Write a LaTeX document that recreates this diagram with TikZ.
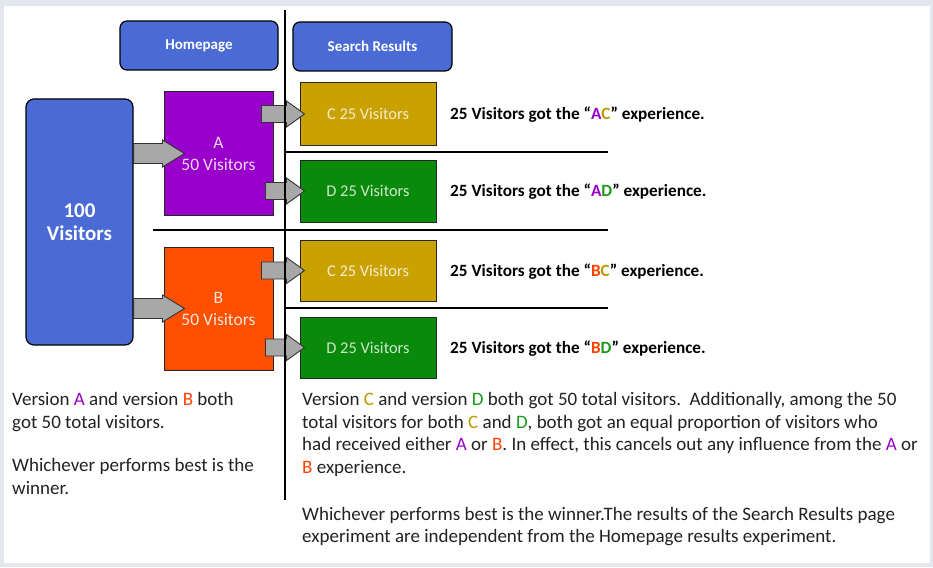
\documentclass[tikz,border=0pt]{standalone}
\usepackage{fontspec}
\setmainfont{Carlito}
\usetikzlibrary{calc}

\definecolor{framegray}{HTML}{E4E6EE}
\definecolor{hpblue}{HTML}{4A6BD6}
\definecolor{apurple}{HTML}{9900CC}
\definecolor{borange}{HTML}{FF5000}
\definecolor{cgold}{HTML}{C9A200}
\definecolor{dgreen}{HTML}{0A8A0A}
\definecolor{ctext}{HTML}{BA9C00}
\definecolor{dtext}{HTML}{1A9A1A}
\definecolor{btext}{HTML}{FF4000}
\definecolor{arrowgray}{HTML}{A8A8A8}
\definecolor{bodytext}{HTML}{222222}

\begin{document}
\begin{tikzpicture}[x=1pt, y=-1pt, inner sep=0pt,
    header/.style = {draw=black, line width=1.2pt, fill=hpblue, rounded corners=7pt, text=white,
                     minimum width=158pt, minimum height=49pt, font=\fontsize{15}{17}\selectfont\bfseries},
    total/.style = {draw=black, line width=1.2pt, fill=hpblue, rounded corners=8pt, text=white,
                    minimum width=107pt, minimum height=246pt, align=center, font=\fontsize{21}{23}\selectfont\bfseries},
    version/.style = {draw=black!85, line width=1pt, fill=#1, text=white!85!#1,
                      minimum width=109pt, minimum height=123pt, align=center, font=\fontsize{17.5}{22}\selectfont},
    page/.style = {draw=black!85, line width=1pt, fill=#1, text=white!80!#1,
                   minimum width=136pt, minimum height=62pt, font=\fontsize{16.4}{18}\selectfont},
    result/.style = {anchor=west, text=black, font=\fontsize{17.2}{19}\selectfont\bfseries},
    note/.style = {anchor=north west, align=left, text=bodytext, font=\fontsize{19}{22.7}\selectfont},
    divider/.style = {draw=black, line width=1.6pt},
    arrowbig/.style = {draw=black!80, fill=arrowgray, line width=0.9pt,
      to path={let \p1=(\tikztostart), \p2=(\tikztotarget) in
        (\x1,{\y1-10pt}) -- ({\x2-22pt},{\y1-10pt}) -- ({\x2-22pt},{\y1-13.5pt}) -- (\x2,\y1)
        -- ({\x2-22pt},{\y1+13.5pt}) -- ({\x2-22pt},{\y1+10pt}) -- (\x1,{\y1+10pt}) -- cycle}},
    arrowsmall/.style = {draw=black!80, fill=arrowgray, line width=0.9pt,
      to path={let \p1=(\tikztostart), \p2=(\tikztotarget) in
        (\x1,{\y1-8.5pt}) -- ({\x2-18pt},{\y1-8.5pt}) -- ({\x2-18pt},{\y1-13pt}) -- (\x2,\y1)
        -- ({\x2-18pt},{\y1+13pt}) -- ({\x2-18pt},{\y1+8.5pt}) -- (\x1,{\y1+8.5pt}) -- cycle}}]

    % frame
    \fill[framegray] (0,0) rectangle (933,567);
    \fill[white] (4,6) rectangle (930,563);

    % pages
    \node[header] (home) at (199,45.5) {Homepage};
    \node[header, minimum width=159pt] (search) at (372.5,46.5) {Search Results};

    % visitors
    \node[total] (hundred) at (79.5,222) {100\\Visitors};
    \node[version=apurple] (A) at (218.5,153.5) {A\\50 Visitors};
    \node[version=borange] (B) at (218.5,308.5) {B\\50 Visitors};

    \node[page=cgold] (AC) at (368,114) {C 25 Visitors};
    \node[page=dgreen] (AD) at (368,191) {D 25 Visitors};
    \node[page=cgold, minimum height=61pt] (BC) at (368,270.5) {C 25 Visitors};
    \node[page=dgreen, minimum height=61pt] (BD) at (368,347.5) {D 25 Visitors};

    % arrows
    \coordinate (sA) at (hundred.east |- A);
    \coordinate (tA) at ([xshift=21pt]A.west);
    \draw[arrowbig] (sA) to (tA);
    \coordinate (sB) at (hundred.east |- B);
    \coordinate (tB) at ([xshift=21pt]B.west);
    \draw[arrowbig] (sB) to (tB);

    \coordinate (sAC) at ([xshift=-12pt]A.east |- AC);
    \coordinate (tAC) at ([xshift=5pt]AC.west);
    \draw[arrowsmall] (sAC) to (tAC);
    \coordinate (sAD) at ([xshift=-8pt]A.east |- AD);
    \coordinate (tAD) at ([xshift=5pt]AD.west);
    \draw[arrowsmall] (sAD) to (tAD);
    \coordinate (sBC) at ([xshift=-12pt]B.east |- BC);
    \coordinate (tBC) at ([xshift=5pt]BC.west);
    \draw[arrowsmall] (sBC) to (tBC);
    \coordinate (sBD) at ([xshift=-8pt]B.east |- BD);
    \coordinate (tBD) at ([xshift=5pt]BD.west);
    \draw[arrowsmall] (sBD) to (tBD);

    % dividers
    \draw[divider] (285,10) -- (285,500);
    \draw[divider] (285,152) -- (608,152);
    \draw[divider] (153,230) -- (608,230);
    \draw[divider] (285,308) -- (608,308);

    % results
    \node[result] (rAC) at (450,115) {25 Visitors got the “{\color{apurple}A}{\color{ctext}C}” experience.};
    \node[result] (rAD) at (450,192) {25 Visitors got the “{\color{apurple}A}{\color{dtext}D}” experience.};
    \node[result] (rBC) at (450,272) {25 Visitors got the “{\color{btext}B}{\color{ctext}C}” experience.};
    \node[result] (rBD) at (450,349) {25 Visitors got the “{\color{btext}B}{\color{dtext}D}” experience.};

    % notes
    \node[note] (leftnote) at (12,392) {Version {\color{apurple}A} and version {\color{btext}B} both\\
        got 50 total visitors.\\[21pt]
        Whichever performs best is the\\
        winner.};
    \node[note] (rightnote) at (302,392) {Version {\color{ctext}C} and version {\color{dtext}D} both got 50 total visitors.\ \ Additionally, among the 50\\
        total visitors for both {\color{ctext}C} and {\color{dtext}D}, both got an equal proportion of visitors who\\
        had received either {\color{apurple}A} or {\color{btext}B}. In effect, this cancels out any influence from the {\color{apurple}A} or\\
        {\color{btext}B} experience.\\[24pt]
        Whichever performs best is the winner.The results of the Search Results page\\
        experiment are independent from the Homepage results experiment.};
\end{tikzpicture}
\end{document}
